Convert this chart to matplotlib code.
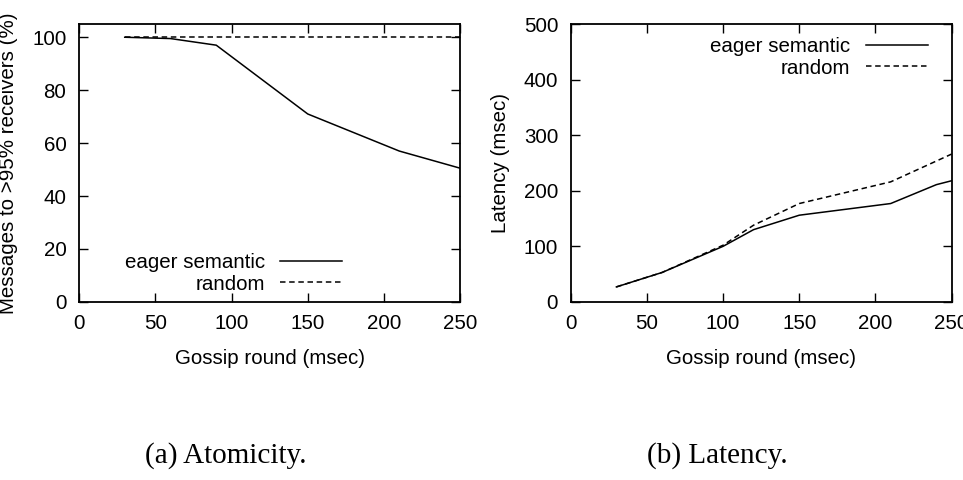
import matplotlib
matplotlib.use("Agg")
import matplotlib.pyplot as plt

plt.rcParams['font.family'] = ['Liberation Sans', 'DejaVu Sans']
plt.rcParams['font.size'] = 14.8

# (a) atomicity
rounds_a = [30, 60, 90, 150, 210, 250]
eager_atom = [100, 99.5, 97, 71, 57, 50.5]
rounds_rand_a = [30, 250]
random_atom = [100, 100]

# (b) latency
rounds_b = [30, 60, 100, 120, 150, 210, 240, 250]
eager_lat = [27, 53, 100, 130, 156, 177, 211, 218]
rounds_rand_b = [30, 60, 100, 120, 150, 210, 250]
random_lat = [27, 53, 102, 138, 177, 216, 266]

dash = (0, (3.6, 2.4))

fig = plt.figure(figsize=(9.63, 4.8), dpi=100)
ax1 = fig.add_axes([0.082, 0.371, 0.396, 0.579])
ax2 = fig.add_axes([0.5926, 0.371, 0.3956, 0.579])

def style_ax(ax):
    ax.tick_params(direction='in', top=True, right=True, length=6.5, width=1.0, pad=9)
    for s in ax.spines.values():
        s.set_linewidth(1.3)
    ax.set_xlim(0, 250)
    ax.set_xticks([0, 50, 100, 150, 200, 250])
    ax.set_xlabel("Gossip round (msec)", labelpad=11)

ax1.plot(rounds_a, eager_atom, color='black', lw=1.1, label='eager semantic')
ax1.plot(rounds_rand_a, random_atom, color='black', lw=1.1, ls=dash, label='random')
style_ax(ax1)
ax1.set_ylim(0, 105)
ax1.set_yticks([0, 20, 40, 60, 80, 100])
ax1.set_ylabel("Messages to >95% receivers (%)", labelpad=10)
ax1.legend(loc='center right', bbox_to_anchor=(0.69, 0.103), markerfirst=False,
           frameon=False, borderpad=0, borderaxespad=0, handlelength=3.0,
           handletextpad=0.75, labelspacing=0.12)

ax2.plot(rounds_b, eager_lat, color='black', lw=1.1, label='eager semantic')
ax2.plot(rounds_rand_b, random_lat, color='black', lw=1.1, ls=dash, label='random')
style_ax(ax2)
ax2.set_ylim(0, 500)
ax2.set_yticks([0, 100, 200, 300, 400, 500])
ax2.set_ylabel("Latency (msec)", labelpad=10)
ax2.legend(loc='center right', bbox_to_anchor=(0.937, 0.88), markerfirst=False,
           frameon=False, borderpad=0, borderaxespad=0, handlelength=3.0,
           handletextpad=0.75, labelspacing=0.12)

fig.text(0.234, 0.052, "(a) Atomicity.", ha='center', va='center',
         family=['Liberation Serif'], fontsize=21)
fig.text(0.745, 0.052, "(b) Latency.", ha='center', va='center',
         family=['Liberation Serif'], fontsize=21)

fig.savefig("out.png", dpi=100)
